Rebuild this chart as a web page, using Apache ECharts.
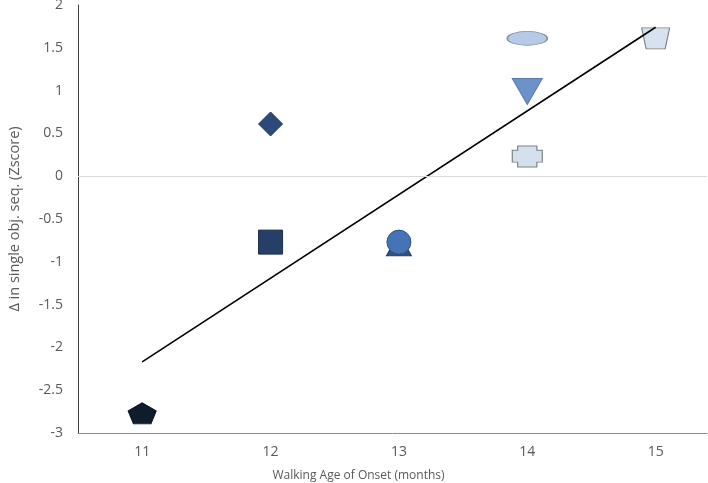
<!DOCTYPE html>
<html><head><meta charset="utf-8">
<script src="https://cdn.jsdelivr.net/npm/echarts@6/dist/echarts.min.js"></script>
<style>html,body{margin:0;padding:0;background:#fff}#c{width:708px;height:483px}</style>
</head><body><div id="c"></div>
<script>
// Data
const pointNames = ['pentagon','diamond','square','triangle','circle','ellipse','invTriangle','plus','trapezoid'];
const walkingAge = [11, 12, 12, 13, 13, 14, 14, 14, 15];
const zDelta     = [-2.77, 0.61, -0.77, -0.80, -0.77, 1.61, 0.99, 0.23, 1.61];
const trendX = [11, 15];
const trendY = [-2.17, 1.74];
const xTickLabels = [11, 12, 13, 14, 15];

// Styles (kept separate from data)
const markerStyle = {
  pentagon:   {symbol:'path://M50,0 L100,38 L81,100 L19,100 L0,38 Z', size:[28,21], color:'#0f1c2e', border:'#0a1420'},
  diamond:    {symbol:'diamond', size:[24,24], color:'#2b4a79', border:'#1e3556'},
  square:     {symbol:'rect', size:[24,24], color:'#263f66', border:'#1b2f4d'},
  triangle:   {symbol:'triangle', size:[25,22], color:'#2f5284', border:'#223c60'},
  circle:     {symbol:'circle', size:[24,24], color:'#4673b5', border:'#2f5284'},
  ellipse:    {symbol:'path://M0,50 A50,50 0 1,1 100,50 A50,50 0 1,1 0,50 Z', size:[40,14], color:'#b6c9e6', border:'#7f8fa6'},
  invTriangle:{symbol:'path://M0,0 L100,0 L50,100 Z', size:[30,26], color:'#6c93c9', border:'#5a7aa6'},
  plus:       {symbol:'path://M18,0 L82,0 L82,20 L100,20 L100,77 L82,77 L82,100 L18,100 L18,77 L0,77 L0,20 L18,20 Z', size:[30,21], color:'#d5e0ef', border:'#808080'},
  trapezoid:  {symbol:'path://M0,0 L100,0 L84,100 L16,100 Z', size:[28,21], color:'#d7e2f1', border:'#808080'}
};

const font = '"Open Sans", Lato, sans-serif';
const series = pointNames.map((n, i) => {
  const s = markerStyle[n];
  return {
    type: 'scatter', name: n, z: 3,
    data: [[walkingAge[i], zDelta[i]]],
    symbol: s.symbol, symbolSize: s.size,
    itemStyle: {color: s.color, borderColor: s.border, borderWidth: 1, opacity: 1},
    emphasis: {disabled: true}
  };
});
series.push({
  type: 'line', name: 'trend', z: 4,
  data: trendX.map((x, i) => [x, trendY[i]]),
  showSymbol: false, symbol: 'none',
  lineStyle: {color: '#000', width: 1.6},
  markLine: {
    silent: true, symbol: 'none', label: {show: false},
    lineStyle: {color: '#d9d9d9', width: 1, type: 'solid'},
    data: [{yAxis: 0}]
  }
});

const chart = echarts.init(document.getElementById('c'), null, {renderer: 'canvas'});
chart.setOption({
  animation: false,
  backgroundColor: '#fff',
  grid: {left: 78, right: 1, top: 5, bottom: 50, containLabel: false, outerBoundsMode: 'none'},
  xAxis: {
    type: 'value', min: 10.5, max: 15.4,
    name: 'Walking Age of Onset (months)', nameLocation: 'middle', nameGap: 37,
    nameTextStyle: {color: '#595959', fontSize: 12, fontFamily: font, padding: [0, 68, 0, 0]},
    axisLine: {show: true, onZero: false, lineStyle: {color: '#8c8c8c', width: 1}},
    axisTick: {show: false},
    splitLine: {show: false},
    axisLabel: {color: '#595959', fontSize: 14, fontFamily: font, margin: 12,
      customValues: xTickLabels, showMinLabel: true, showMaxLabel: true, hideOverlap: false}
  },
  yAxis: {
    type: 'value', min: -3, max: 2, interval: 0.5,
    name: 'Δ in single obj. seq. (Zscore)', nameLocation: 'middle', nameGap: 56, nameRotate: 90,
    nameTextStyle: {color: '#595959', fontSize: 14.5, fontFamily: font},
    axisLine: {show: true, onZero: false, lineStyle: {color: '#404040', width: 1}},
    axisTick: {show: false},
    splitLine: {show: false},
    axisLabel: {color: '#595959', fontSize: 14, fontFamily: font, margin: 15}
  },
  series: series
});
</script></body></html>
